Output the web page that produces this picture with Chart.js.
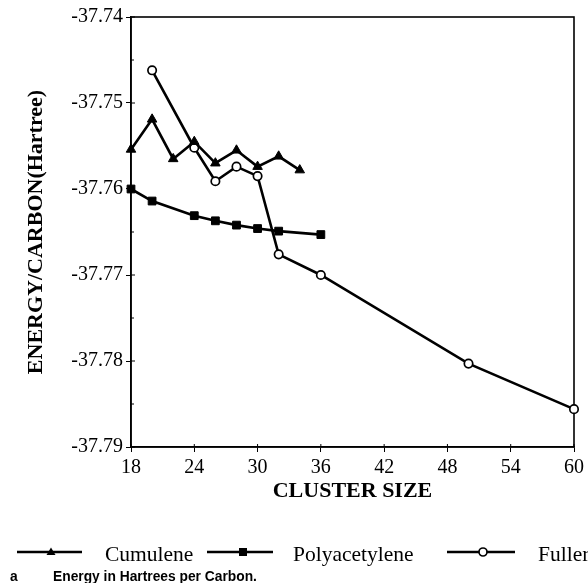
<!DOCTYPE html>
<html>
<head>
<meta charset="utf-8">
<script src="https://cdn.jsdelivr.net/npm/chart.js@4/dist/chart.umd.min.js"></script>
<style>
  body { margin: 0; background: #fff; }
  #wrap { width: 588px; height: 583px; }
</style>
</head>
<body>
<div id="wrap"><canvas id="chart" width="588" height="583"></canvas></div>
<script>
// cluster sizes and energies per carbon (Hartree)
const cumuleneN = [18, 20, 22, 24, 26, 28, 30, 32, 34];
const cumuleneE = [-37.7554, -37.7519, -37.7565, -37.7545, -37.7570, -37.7555, -37.7574, -37.7562, -37.7578];

const polyN = [18, 20, 24, 26, 28, 30, 32, 36];
const polyE = [-37.7600, -37.7614, -37.7631, -37.7637, -37.7642, -37.7646, -37.7649, -37.7653];

const fullN = [20, 24, 26, 28, 30, 32, 36, 50, 60];
const fullE = [-37.7462, -37.7552, -37.7591, -37.7574, -37.7585, -37.7676, -37.7700, -37.7803, -37.7856];

const seriesNames = ["Cumulene", "Polyacetylene", "Fullerene"];
const xTicks = [18, 24, 30, 36, 42, 48, 54, 60];
const yTicks = [-37.79, -37.78, -37.77, -37.76, -37.75, -37.74];

const serif = "'Liberation Serif', 'Times New Roman', serif";

function pts(xs, ys) {
    return xs.map(function (x, i) { return {x: x, y: ys[i]}; });
}

// box round the plot plus the little inner ticks
const frame = {
    id: 'frame',
    beforeDatasetsDraw(chart) {
        const ctx = chart.ctx;
        const a = chart.chartArea;
        const x = chart.scales.x, y = chart.scales.y;
        ctx.save();
        ctx.strokeStyle = '#000';
        ctx.lineWidth = 1.6;
        ctx.strokeRect(a.left, a.top, a.right - a.left, a.bottom - a.top);
        ctx.lineWidth = 1;
        yTicks.forEach(function (v, i) {
            let py = y.getPixelForValue(v);
            ctx.beginPath();
            ctx.moveTo(a.left, py);
            ctx.lineTo(a.left + 4, py);
            ctx.stroke();
            if (i < yTicks.length - 1) {
                let mid = y.getPixelForValue((v + yTicks[i + 1]) / 2);
                ctx.beginPath();
                ctx.moveTo(a.left, mid);
                ctx.lineTo(a.left + 3, mid);
                ctx.stroke();
            }
        });
        xTicks.forEach(function (v) {
            let px = x.getPixelForValue(v);
            ctx.beginPath();
            ctx.moveTo(px, a.bottom);
            ctx.lineTo(px, a.bottom - 3);
            ctx.stroke();
        });
        ctx.restore();
    },
    afterDraw(chart) {
        const ctx = chart.ctx;
        ctx.save();
        ctx.strokeStyle = '#000';
        ctx.fillStyle = '#000';
        // legend: line, marker, name
        const items = [
            {x1: 17, x2: 82, m: 51, tx: 105, style: 'triangle'},
            {x1: 207, x2: 273, m: 243, tx: 293, style: 'rect'},
            {x1: 447, x2: 515, m: 483, tx: 538, style: 'circle'}
        ];
        const ly = 552;
        items.forEach(function (it, i) {
            ctx.lineWidth = 2.4;
            ctx.beginPath();
            ctx.moveTo(it.x1, ly);
            ctx.lineTo(it.x2, ly);
            ctx.stroke();
            if (it.style === 'triangle') {
                ctx.beginPath();
                ctx.moveTo(it.m, ly - 4.5);
                ctx.lineTo(it.m + 4.5, ly + 3);
                ctx.lineTo(it.m - 4.5, ly + 3);
                ctx.closePath();
                ctx.fill();
            } else if (it.style === 'rect') {
                ctx.fillRect(it.m - 4, ly - 4, 8, 8);
            } else {
                ctx.beginPath();
                ctx.arc(it.m, ly, 4, 0, Math.PI * 2);
                ctx.fillStyle = '#fff';
                ctx.fill();
                ctx.lineWidth = 1.7;
                ctx.stroke();
                ctx.fillStyle = '#000';
            }
            ctx.font = "21.5px " + serif;
            ctx.textAlign = 'left';
            ctx.textBaseline = 'alphabetic';
            ctx.fillText(seriesNames[i], it.tx, 561);
        });
        // footnote
        ctx.font = "bold 13.8px 'Liberation Sans', Arial, sans-serif";
        ctx.textBaseline = 'middle';
        ctx.fillText("a", 10, 577);
        ctx.fillText("Energy in Hartrees per Carbon.", 53, 577);
        ctx.restore();
    }
};

new Chart(document.getElementById("chart"), {
    type: 'scatter',
    data: {
        datasets: [{
            label: seriesNames[0],
            data: pts(cumuleneN, cumuleneE),
            showLine: true,
            borderColor: '#000',
            borderWidth: 2.6,
            backgroundColor: '#000',
            pointStyle: 'triangle',
            pointRadius: 5.5,
            pointBorderWidth: 1
        }, {
            label: seriesNames[1],
            data: pts(polyN, polyE),
            showLine: true,
            borderColor: '#000',
            borderWidth: 2.6,
            backgroundColor: '#000',
            pointStyle: 'rect',
            pointRadius: 5.5,
            pointBorderWidth: 1
        }, {
            label: seriesNames[2],
            data: pts(fullN, fullE),
            showLine: true,
            borderColor: '#000',
            borderWidth: 2.6,
            pointBackgroundColor: '#fff',
            pointBorderColor: '#000',
            pointStyle: 'circle',
            pointRadius: 4.2,
            pointBorderWidth: 1.7
        }]
    },
    options: {
        responsive: false,
        animation: false,
        clip: false,
        layout: {
            padding: {left: 0, top: 17, right: 11, bottom: 0}
        },
        plugins: {
            legend: {display: false},
            tooltip: {enabled: false}
        },
        scales: {
            x: {
                type: 'linear',
                min: 18,
                max: 60,
                afterBuildTicks: function (scale) {
                    scale.ticks = xTicks.map(function (v) { return {value: v}; });
                },
                afterFit: function (scale) { scale.height = 136; },
                ticks: {
                    color: '#000',
                    padding: 4,
                    font: {family: serif, size: 20}
                },
                grid: {
                    drawOnChartArea: false,
                    color: '#000',
                    tickLength: 5
                },
                border: {color: '#000', width: 1.6},
                title: {
                    display: true,
                    text: 'CLUSTER SIZE',
                    color: '#000',
                    font: {family: serif, size: 22, weight: 'bold'},
                    padding: {top: 0, bottom: 78}
                }
            },
            y: {
                type: 'linear',
                min: -37.79,
                max: -37.74,
                afterBuildTicks: function (scale) {
                    scale.ticks = yTicks.map(function (v) { return {value: v}; });
                },
                afterFit: function (scale) { scale.width = 131; },
                ticks: {
                    color: '#000',
                    padding: 3,
                    font: {family: serif, size: 20},
                    callback: function (v) { return Number(v).toFixed(2); }
                },
                grid: {
                    drawOnChartArea: false,
                    color: '#000',
                    tickLength: 5
                },
                border: {color: '#000', width: 1.6},
                title: {
                    display: true,
                    text: 'ENERGY/CARBON(Hartree)',
                    color: '#000',
                    font: {family: serif, size: 22, weight: 'bold'},
                    padding: {top: 23, bottom: 0}
                }
            }
        }
    },
    plugins: [frame]
});
</script>
</body>
</html>
